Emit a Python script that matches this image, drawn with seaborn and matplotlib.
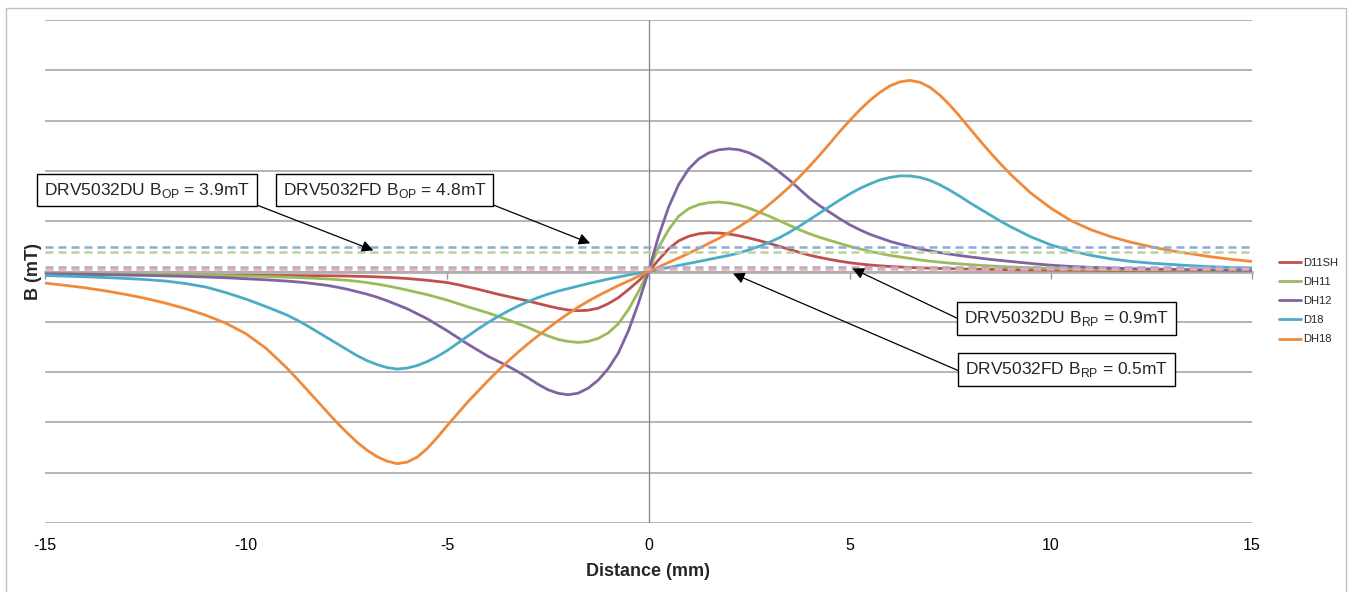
import numpy as np
import pandas as pd
import matplotlib
matplotlib.use("Agg")
import matplotlib.pyplot as plt
from matplotlib.patches import Rectangle
import seaborn as sns

# ---------------- data ----------------
distance_mm = [
    -15, -14.5, -14, -13.5, -13, -12.5, -12, -11.5, -11, -10.5, -10, -9.5, -9,
    -8.75, -8.5, -8.25, -8, -7.75, -7.5, -7.25, -7, -6.75, -6.5, -6.25, -6,
    -5.75, -5.5, -5.25, -5, -4.75, -4.5, -4.25, -4, -3.75, -3.5, -3.25, -3,
    -2.75, -2.5, -2.25, -2, -1.75, -1.5, -1.25, -1, -0.75, -0.5, -0.25,
    0,
    0.25, 0.5, 0.75, 1, 1.25, 1.5, 1.75, 2, 2.25, 2.5, 2.75, 3,
    3.25, 3.5, 3.75, 4, 4.25, 4.5, 4.75, 5, 5.25, 5.5, 5.75, 6,
    6.25, 6.5, 6.75, 7, 7.25, 7.5, 7.75, 8, 8.25, 8.5, 8.75,
    9, 9.5, 10, 10.5, 11, 11.5, 12, 12.5, 13, 13.5, 14, 14.5, 15,
]

b_d11sh = [
    -0.6, -0.6, -0.62, -0.63, -0.65, -0.66, -0.68, -0.7, -0.72, -0.74, -0.76, -0.78, -0.8,
    -0.81, -0.82, -0.83, -0.85, -0.87, -0.9, -0.95, -1.0, -1.07, -1.15, -1.27, -1.4,
    -1.57, -1.75, -1.97, -2.2, -2.6, -3.05, -3.5, -4.0, -4.5, -4.95, -5.4, -5.85,
    -6.35, -6.85, -7.3, -7.65, -7.8, -7.7, -7.3, -6.4, -5.2, -3.6, -1.9,
    0,
    2.3, 4.5, 6.1, 7.0, 7.5, 7.7, 7.65, 7.45, 7.1, 6.65, 6.15, 5.6,
    5.0, 4.4, 3.8, 3.25, 2.8, 2.4, 2.05, 1.75, 1.5, 1.3, 1.13, 1.0,
    0.9, 0.8, 0.72, 0.65, 0.6, 0.55, 0.51, 0.48, 0.45, 0.42, 0.39,
    0.37, 0.33, 0.3, 0.27, 0.25, 0.23, 0.21, 0.2, 0.18, 0.17, 0.16, 0.15, 0.14,
]

b_dh11 = [
    -0.35, -0.38, -0.42, -0.46, -0.5, -0.55, -0.6, -0.66, -0.72, -0.8, -0.9, -1.0, -1.12,
    -1.2, -1.28, -1.37, -1.47, -1.6, -1.75, -1.95, -2.2, -2.5, -2.85, -3.25, -3.7,
    -4.15, -4.6, -5.15, -5.7, -6.35, -7.0, -7.6, -8.2, -8.9, -9.6, -10.35, -11.1,
    -12.0, -12.8, -13.5, -13.9, -14.1, -13.9, -13.3, -12.2, -10.4, -7.6, -4.0,
    0,
    4.8, 8.3, 11.0, 12.5, 13.3, 13.7, 13.8, 13.6, 13.2, 12.6, 11.8, 11.0,
    10.1, 9.2, 8.3, 7.5, 6.8, 6.2, 5.6, 5.0, 4.5, 4.0, 3.6, 3.2,
    2.9, 2.6, 2.3, 2.05, 1.85, 1.65, 1.5, 1.35, 1.22, 1.1, 1.0,
    0.9, 0.75, 0.62, 0.53, 0.46, 0.4, 0.35, 0.31, 0.28, 0.25, 0.23, 0.21, 0.2,
]

b_dh12 = [
    -0.45, -0.5, -0.55, -0.62, -0.7, -0.78, -0.87, -0.97, -1.1, -1.25, -1.45, -1.65, -1.9,
    -2.05, -2.25, -2.5, -2.75, -3.1, -3.5, -4.0, -4.5, -5.1, -5.8, -6.6, -7.4,
    -8.4, -9.4, -10.6, -11.8, -13.1, -14.4, -15.6, -16.8, -17.8, -18.8, -19.9, -21.1,
    -22.4, -23.5, -24.2, -24.5, -24.2, -23.2, -21.6, -19.3, -16.2, -11.8, -6.3,
    0,
    7.0, 12.8, 17.3, 20.4, 22.4, 23.6, 24.2, 24.4, 24.2, 23.6, 22.6, 21.3,
    19.8, 18.2, 16.4, 14.6, 13.1, 11.8, 10.5, 9.3, 8.3, 7.4, 6.7, 6.0,
    5.45, 4.95, 4.5, 4.1, 3.75, 3.45, 3.15, 2.9, 2.65, 2.4, 2.2,
    2.0, 1.6, 1.25, 1.0, 0.82, 0.68, 0.57, 0.5, 0.44, 0.38, 0.33, 0.28, 0.25,
]

b_d18 = [
    -0.8, -0.92, -1.05, -1.2, -1.38, -1.6, -1.9, -2.4, -3.1, -4.2, -5.5, -7.0, -8.6,
    -9.6, -10.7, -11.9, -13.1, -14.3, -15.5, -16.7, -17.7, -18.5, -19.1, -19.4, -19.2,
    -18.7, -17.9, -16.9, -15.7, -14.3, -12.9, -11.5, -10.2, -9.0, -7.9, -6.9, -6.0,
    -5.2, -4.5, -3.9, -3.4, -2.9, -2.4, -1.95, -1.5, -1.1, -0.7, -0.35,
    0,
    0.4, 0.8, 1.2, 1.6, 2.0, 2.4, 2.8, 3.2, 3.7, 4.3, 5.0, 5.8,
    6.7, 7.8, 9.0, 10.3, 11.6, 12.9, 14.2, 15.4, 16.5, 17.4, 18.2, 18.7,
    19.0, 19.0, 18.7, 18.1, 17.2, 16.1, 14.9, 13.6, 12.4, 11.2, 10.0,
    8.9, 6.9, 5.3, 4.1, 3.2, 2.5, 2.0, 1.65, 1.4, 1.15, 0.95, 0.8, 0.7,
]

b_dh18 = [
    -2.3, -2.75, -3.25, -3.85, -4.55, -5.35, -6.3, -7.4, -8.7, -10.3, -12.4, -15.3, -19.1,
    -21.2, -23.4, -25.6, -27.8, -30.0, -32.0, -33.9, -35.5, -36.8, -37.7, -38.2, -37.9,
    -36.9, -35.2, -33.0, -30.6, -28.3, -26.0, -23.9, -21.8, -19.8, -17.9, -16.1, -14.4,
    -12.8, -11.3, -9.8, -8.4, -7.1, -5.9, -4.8, -3.8, -2.8, -1.9, -0.95,
    0,
    0.9, 1.8, 2.7, 3.6, 4.6, 5.6, 6.6, 7.7, 8.9, 10.2, 11.7, 13.3,
    15.0, 16.8, 18.8, 20.9, 23.1, 25.4, 27.8, 30.0, 32.1, 34.0, 35.6, 36.9,
    37.7, 38.0, 37.6, 36.6, 35.0, 33.0, 30.7, 28.3, 25.9, 23.6, 21.4,
    19.3, 15.6, 12.6, 10.1, 8.3, 6.9, 5.8, 4.9, 4.1, 3.5, 2.9, 2.4, 2.0,
]

series_names = ["D11SH", "DH11", "DH12", "D18", "DH18"]
series_colors = ["#C0504D", "#9BBB59", "#8064A2", "#4BACC6", "#F08A3A"]

threshold_values = [4.8, 3.9, 0.9, 0.5]
threshold_colors = ["#8EA9DB", "#B9D39A", "#B4A7CC", "#E6AFAF"]

annotation_texts = [
    r"DRV5032DU B$_{\mathregular{OP}}$ = 3.9mT",
    r"DRV5032FD B$_{\mathregular{OP}}$ = 4.8mT",
    r"DRV5032DU B$_{\mathregular{RP}}$ = 0.9mT",
    r"DRV5032FD B$_{\mathregular{RP}}$ = 0.5mT",
]
x_ticks = [-15, -10, -5, 0, 5, 10, 15]

# ---------------- style ----------------
sns.set_theme(style="white")
plt.rcParams["font.family"] = ["Liberation Sans Narrow", "Liberation Sans", "DejaVu Sans"]
plt.rcParams["axes.unicode_minus"] = False

df = pd.DataFrame({
    "Distance": distance_mm * 5,
    "B": b_d11sh + b_dh11 + b_dh12 + b_d18 + b_dh18,
    "series": sum([[n] * len(distance_mm) for n in series_names], []),
})

W, H = 1352, 592
fig = plt.figure(figsize=(W / 100, H / 100), dpi=100)
ax = fig.add_axes([45 / W, 1 - 523 / H, (1252 - 45) / W, (523 - 20) / H])

# outer border
fig.patches.append(Rectangle((6 / W, -0.02), (1346 - 6) / W, 1 - 8 / H + 0.02,
                             transform=fig.transFigure, fill=False,
                             edgecolor="#BFBFBF", lw=1.0))

sns.lineplot(data=df, x="Distance", y="B", hue="series", hue_order=series_names,
             palette=series_colors, estimator=None, sort=False, linewidth=2.0,
             ax=ax, zorder=3)

for v, c in zip(threshold_values, threshold_colors):
    ax.axhline(v, color=c, lw=1.8, dashes=(3.2, 2.0), zorder=4)

ax.set_xlim(-15, 15)
ax.set_ylim(-50, 50)
ax.set_yticks(np.arange(-50, 51, 10))
ax.yaxis.grid(True, color="#A0A0A0", lw=1.1)
ax.xaxis.grid(False)
ax.tick_params(axis="y", length=0, labelleft=False)
for s in ["top", "right", "left"]:
    ax.spines[s].set_visible(False)
ax.spines["bottom"].set_position(("data", 0))
ax.spines["bottom"].set_color("#B0B0B0")
ax.spines["bottom"].set_linewidth(2.0)
ax.spines["bottom"].set_zorder(2)
ax.set_xticks(x_ticks)
ax.tick_params(axis="x", direction="out", length=5, width=1, color="#999999",
               labelbottom=False, bottom=True)
ax.axvline(0, color="#8C8C8C", lw=1.0, zorder=1)

sec = ax.secondary_xaxis("bottom")
sec.set_xticks(x_ticks)
sec.tick_params(length=0, pad=11, labelsize=11.5, labelcolor="black")
sec.spines["bottom"].set_visible(False)

ax.set_xlabel("")
sec.set_xlabel("Distance (mm)", fontsize=13, fontweight="bold", labelpad=7)
ax.set_ylabel("B (mT)", fontsize=13, fontweight="bold", labelpad=2)

# annotation boxes and arrows (positions in data coords)
box_centers = [(-12.46, 16.2), (-6.56, 16.2), (10.38, -9.3), (10.38, -19.4)]
arrow_tails = [(-9.76, 13.3), (-3.88, 13.3), (7.70, -9.4), (7.70, -19.7)]
arrow_tips = [(-6.84, 4.2), (-1.45, 5.6), (5.07, 0.6), (2.10, -0.4)]
for t, c, tail, tip in zip(annotation_texts, box_centers, arrow_tails, arrow_tips):
    ax.annotate("", xy=tip, xytext=tail,
                arrowprops=dict(arrowstyle="-|>", color="black", lw=0.9,
                                mutation_scale=17, shrinkA=0, shrinkB=0), zorder=6)
    ax.text(c[0], c[1], t, ha="center", va="center", fontsize=12.5, zorder=7,
            bbox=dict(boxstyle="square,pad=0.4", facecolor="white",
                      edgecolor="black", lw=1.0))

sns.move_legend(ax, loc="upper left", bbox_to_anchor=(1279 / W, 1 - 258 / H),
                bbox_transform=fig.transFigure, frameon=False, title=None,
                fontsize=8, handlelength=2.0, handletextpad=0.2,
                labelspacing=0.82, borderpad=0, borderaxespad=0)

fig.savefig("out.png", dpi=100)
